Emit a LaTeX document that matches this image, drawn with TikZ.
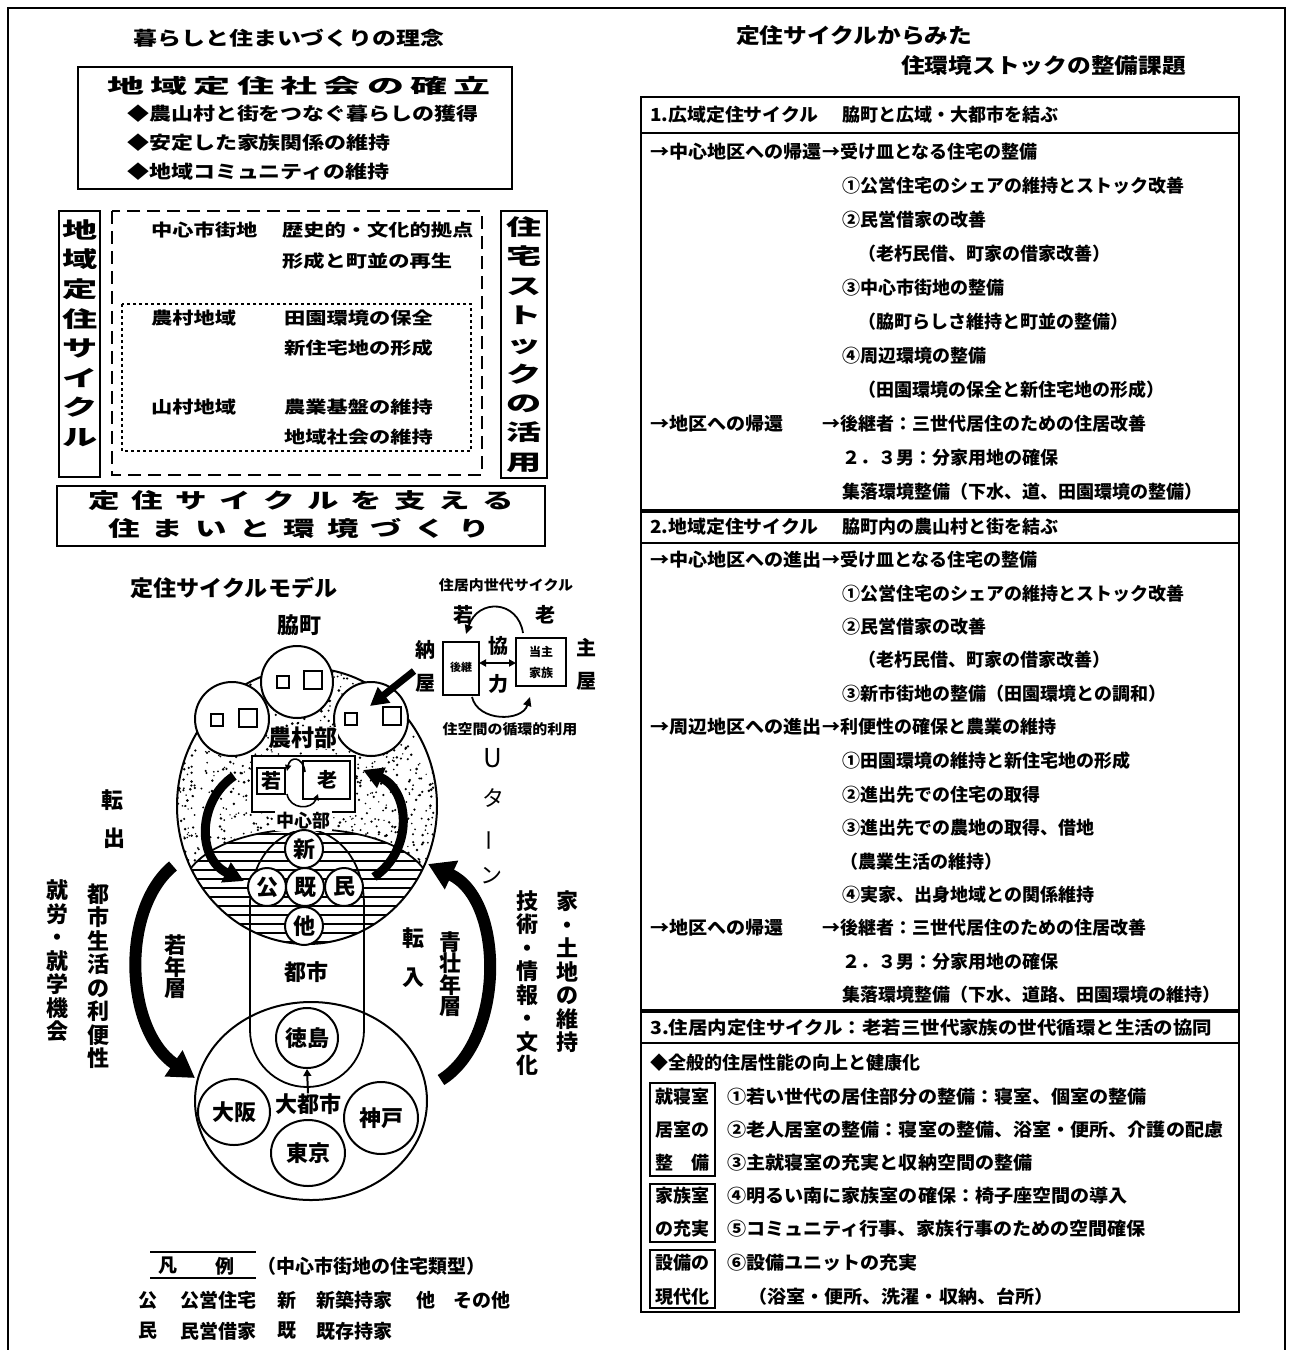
\documentclass[tikz,border=0pt]{standalone}
\usepackage{fontspec}
\setmainfont{Noto Sans CJK JP}
\usetikzlibrary{arrows.meta}
\newcommand{\fs}[1]{\fontsize{#1}{#1}\selectfont}
\newcommand{\sx}[2]{\scalebox{#1}[1]{#2}}
\newcommand{\spc}[2]{\foreach \cc [count=\ii] in {#2}{\ifnum\ii>1\hspace{#1}\fi\cc}}
\newcommand{\vstack}[1]{\begin{tabular}{@{}c@{}}#1\end{tabular}}
\tikzset{
  lw/.style={line width=2pt},
  tb/.style={anchor=west, inner sep=0pt, font=\fs{18}\bfseries},
  lt/.style={anchor=west, inner sep=0pt, font=\fs{17}\bfseries},
  vlab/.style={align=center, inner sep=0pt, font={\fontsize{22}{23.5}\selectfont\bfseries}},
  vlabs/.style={align=center, inner sep=0pt, font={\fontsize{22}{21.5}\selectfont\bfseries}},
  ml/.style={inner sep=0pt, font=\fs{22}\bfseries},
  sm/.style={inner sep=0pt, font=\fs{20}\bfseries},
  lg/.style={inner sep=0pt, font=\fs{19}\bfseries},
  bigarr/.style={line width=12pt, -{Triangle[length=26pt,width=30pt]}},
  midarr/.style={line width=9pt, -{Triangle[length=20pt,width=21pt]}},
  thinarr/.style={line width=1.8pt, -{Triangle[length=9pt,width=8pt]}},
}
\begin{document}
\begin{tikzpicture}[x=1pt,y=-1pt]
\useasboundingbox (0,0) rectangle (1291,1350);
\fill[white] (0,0) rectangle (1291,1350);
% outer frame
\draw[lw] (8,1350) -- (8,8) -- (1285,8) -- (1285,1350);

% ================= left top =================
\node[font=\fs{19}\bfseries] (t1) at (289,38) {\sx{1.26}{暮らしと住まいづくりの理念}};
\draw[lw] (78,67) rectangle (512,189);
\node[font=\fs{20}\bfseries] (b1) at (299,86) {\sx{1.85}{\spc{3.4pt}{地,域,定,住,社,会,の,確,立}}};
\node[lt, font=\fs{18}\bfseries] (b1a) at (127,114) {\sx{1.22}{◆農山村と街をつなぐ暮らしの獲得}};
\node[lt, font=\fs{18}\bfseries] (b1b) at (127,143) {\sx{1.22}{◆安定した家族関係の維持}};
\node[lt, font=\fs{18}\bfseries] (b1c) at (127,172) {\sx{1.22}{◆地域コミュニティの維持}};

\draw[lw] (59,211) rectangle (100,477);
\node[font={\fontsize{22}{29.6}\selectfont\bfseries}] (lv) at (80,336) {\sx{1.6}{\vstack{地\\域\\定\\住\\サ\\イ\\ク\\ル}}};
\draw[lw] (501,211) rectangle (547,478);
\node[font={\fontsize{22}{29.3}\selectfont\bfseries}] (rv) at (524,347) {\sx{1.6}{\vstack{住\\宅\\ス\\ト\\ッ\\ク\\の\\活\\用}}};

\draw[line width=1.8pt, dash pattern=on 13pt off 7pt] (112,211) rectangle (482,475);
\draw[line width=1.8pt, dash pattern=on 3pt off 3pt] (122,304) rectangle (471,451);
\node[lt] (d1) at (151,230) {\sx{1.25}{中心市街地}};
\node[lt] (d2) at (282,230) {\sx{1.25}{歴史的・文化的拠点}};
\node[lt] (d3) at (282,261) {\sx{1.25}{形成と町並の再生}};
\node[lt] (d4) at (151,318) {\sx{1.25}{農村地域}};
\node[lt] (d5) at (284,318) {\sx{1.25}{田園環境の保全}};
\node[lt] (d6) at (284,348) {\sx{1.25}{新住宅地の形成}};
\node[lt] (d7) at (151,407) {\sx{1.25}{山村地域}};
\node[lt] (d8) at (284,407) {\sx{1.25}{農業基盤の維持}};
\node[lt] (d9) at (284,437) {\sx{1.25}{地域社会の維持}};

\draw[lw] (57,486) rectangle (545,546);
\node[font=\fs{21}\bfseries] (bb1) at (301,501) {\sx{1.5}{\spc{8.2pt}{定,住,サ,イ,ク,ル,を,支,え,る}}};
\node[font=\fs{21}\bfseries] (bb2) at (299,528) {\sx{1.5}{\spc{8.2pt}{住,ま,い,と,環,境,づ,く,り}}};

% ================= right table =================
\node[anchor=west, inner sep=0pt, font=\fs{21}\bfseries] (rt1) at (736,36) {\sx{1.13}{定住サイクルからみた}};
\node[anchor=west, inner sep=0pt, font=\fs{21}\bfseries] (rt2) at (901,66) {\sx{1.13}{住環境ストックの整備課題}};

\draw[lw] (641,97) rectangle (1239,133);
\draw[lw] (641,133) rectangle (1239,510);
\draw[lw] (641,512) rectangle (1239,543);
\draw[lw] (641,543) rectangle (1239,1010);
\draw[lw] (641,1012) rectangle (1239,1043);
\draw[lw] (641,1043) rectangle (1239,1312);

% section 1
\node[tb] (s1h) at (650,115) {\sx{1.05}{1.広域定住サイクル}};
\node[tb] (s1hb) at (842,115) {脇町と広域・大都市を結ぶ};
\node[tb] (s1a) at (650,152) {\sx{1.06}{→中心地区への帰還}};
\node[tb] (s1ab) at (822,152) {→受け皿となる住宅の整備};
\node[tb] (s1b) at (842,186) {①公営住宅のシェアの維持とストック改善};
\node[tb] (s1c) at (842,220) {②民営借家の改善};
\node[tb] (s1d) at (858,254) {（老朽民借、町家の借家改善）};
\node[tb] (s1e) at (842,288) {③中心市街地の整備};
\node[tb] (s1f) at (858,322) {（脇町らしさ維持と町並の整備）};
\node[tb] (s1g) at (842,356) {④周辺環境の整備};
\node[tb] (s1h2) at (858,390) {（田園環境の保全と新住宅地の形成）};
\node[tb] (s1i) at (650,424) {\sx{1.06}{→地区への帰還}};
\node[tb] (s1ib) at (822,424) {→後継者：三世代居住のための住居改善};
\node[tb] (s1j) at (842,458) {２．３男：分家用地の確保};
\node[tb] (s1k) at (842,492) {集落環境整備（下水、道、田園環境の整備）};

% section 2
\node[tb] (s2h) at (650,527) {\sx{1.05}{2.地域定住サイクル}};
\node[tb] (s2hb) at (842,527) {脇町内の農山村と街を結ぶ};
\node[tb] (s2a) at (650,560) {\sx{1.06}{→中心地区への進出}};
\node[tb] (s2ab) at (822,560) {→受け皿となる住宅の整備};
\node[tb] (s2b) at (842,594) {①公営住宅のシェアの維持とストック改善};
\node[tb] (s2c) at (842,627) {②民営借家の改善};
\node[tb] (s2d) at (858,660) {（老朽民借、町家の借家改善）};
\node[tb] (s2e) at (842,694) {③新市街地の整備（田園環境との調和）};
\node[tb] (s2f) at (650,727) {\sx{1.06}{→周辺地区への進出}};
\node[tb] (s2fb) at (822,727) {→利便性の確保と農業の維持};
\node[tb] (s2g) at (842,761) {①田園環境の維持と新住宅地の形成};
\node[tb] (s2h2) at (842,795) {②進出先での住宅の取得};
\node[tb] (s2i) at (842,828) {③進出先での農地の取得、借地};
\node[tb] (s2j) at (840,862) {（農業生活の維持）};
\node[tb] (s2k) at (842,895) {④実家、出身地域との関係維持};
\node[tb] (s2l) at (650,928) {\sx{1.06}{→地区への帰還}};
\node[tb] (s2lb) at (822,928) {→後継者：三世代居住のための住居改善};
\node[tb] (s2m) at (842,962) {２．３男：分家用地の確保};
\node[tb] (s2n) at (842,995) {集落環境整備（下水、道路、田園環境の維持）};

% section 3
\node[tb] (s3h) at (650,1028) {\sx{1.08}{3.住居内定住サイクル：老若三世代家族の世代循環と生活の協同}};
\node[tb] (s3a) at (650,1063) {◆全般的住居性能の向上と健康化};
\draw[lw] (650,1083) rectangle (715,1176);
\draw[lw] (650,1184) rectangle (715,1242);
\draw[lw] (650,1250) rectangle (715,1308);
\node[tb, anchor=center] (k1) at (682,1097) {就寝室};
\node[tb, anchor=center] (k2) at (682,1130) {居室の};
\node[tb, anchor=center] (k3) at (682,1163) {整\hspace{18pt}備};
\node[tb, anchor=center] (k4) at (682,1196) {家族室};
\node[tb, anchor=center] (k5) at (682,1229) {の充実};
\node[tb, anchor=center] (k6) at (682,1263) {設備の};
\node[tb, anchor=center] (k7) at (682,1297) {現代化};
\node[tb] (s3b) at (727,1097) {\sx{1.06}{①若い世代の居住部分の整備：寝室、個室の整備}};
\node[tb] (s3c) at (727,1130) {\sx{1.06}{②老人居室の整備：寝室の整備、浴室・便所、介護の配慮}};
\node[tb] (s3d) at (727,1163) {\sx{1.06}{③主就寝室の充実と収納空間の整備}};
\node[tb] (s3e) at (727,1196) {\sx{1.06}{④明るい南に家族室の確保：椅子座空間の導入}};
\node[tb] (s3f) at (727,1229) {\sx{1.06}{⑤コミュニティ行事、家族行事のための空間確保}};
\node[tb] (s3g) at (727,1263) {\sx{1.06}{⑥設備ユニットの充実}};
\node[tb] (s3i) at (748,1297) {\sx{1.06}{（浴室・便所、洗濯・収納、台所）}};

% ================= model =================
\node[font=\fs{22}\bfseries] (mt) at (234,588) {\sx{1.05}{定住サイクルモデル}};
\node[ml] (wm) at (299,625) {脇町};

\begin{scope}
  \clip (307,806) ellipse [x radius=130pt, y radius=138pt];
  \pgfmathsetseed{11}
  \foreach \k in {1,...,1500}{
    \pgfmathsetmacro{\px}{307+130*rand}
    \pgfmathsetmacro{\py}{806+138*rand}
    \pgfmathsetmacro{\pr}{1.1+0.4*rand}
    \fill (\px,\py) circle (\pr pt);
  }
  \begin{scope}
    \clip (170,868) -- (191,868) .. controls (232,816) and (382,816) .. (423,868) -- (445,868) -- (445,960) -- (170,960) -- cycle;
    \fill[white] (170,810) rectangle (450,960);
    \foreach \yy in {834,843,...,950} \draw[line width=1.6pt] (170,\yy) -- (450,\yy);
  \end{scope}
\end{scope}
\draw[lw] (307,806) ellipse [x radius=130pt, y radius=138pt];
\draw[line width=1.8pt] (191,868) .. controls (232,816) and (382,816) .. (423,868);
% capsule
\draw[line width=1.8pt] (250,1030) -- (250,905) .. controls (250,860) and (276,832) .. (307,829)
  .. controls (338,832) and (364,860) .. (364,905) -- (364,1030)
  .. controls (364,1061.5) and (338.5,1087) .. (307,1087)
  .. controls (275.5,1087) and (250,1061.5) .. (250,1030);

% top circles
\draw[lw, fill=white] (297,682) circle (36pt);
\draw[lw] (277,676) rectangle (289,688);
\draw[lw] (304,671) rectangle (322,689);
\draw[lw, fill=white] (232,719) circle (37pt);
\draw[lw] (211,714) rectangle (223,726);
\draw[lw] (239,709) rectangle (257,727);
\draw[lw, fill=white] (371,719) circle (37pt);
\draw[lw] (345,713) rectangle (357,725);
\draw[lw] (383,707) rectangle (401,725);

\node[inner sep=0pt, fill=white, font=\fs{23}\bfseries] (nson) at (303,738) {農村部};

% center box
\draw[line width=1.8pt, fill=white] (252,756) rectangle (355,812);
\draw[lw] (257,768) rectangle (285,794);
\draw[lw] (303,761) rectangle (350,799);
\node[sm] (waka) at (271,781) {若};
\node[sm] (roo) at (327,780) {老};
\draw[line width=1.6pt, -{Triangle[length=6pt,width=6pt]}] (305,772) .. controls (303,756) and (290,756) .. (287,771);
\draw[line width=1.6pt, -{Triangle[length=6pt,width=6pt]}] (287,794) .. controls (290,810) and (312,810) .. (318,794);
\node[inner sep=1.5pt, fill=white, font=\fs{18}\bfseries] (chu) at (303,821) {中心部};

% inner thick arcs
\draw[midarr] (234,776) .. controls (198,800) and (196,858) .. (244,881);
\draw[midarr] (374,877) .. controls (414,850) and (410,790) .. (363,770);

% small circles
\draw[lw, fill=white] (304,849) circle (19pt);
\draw[lw, fill=white] (267,887) circle (19pt);
\draw[lw, fill=white] (305,887) circle (19pt);
\draw[lw, fill=white] (344,887) circle (19pt);
\draw[lw, fill=white] (304,926) circle (19pt);
\node[ml] (cshin) at (304,849) {新};
\node[ml] (cko) at (267,887) {公};
\node[ml] (cki) at (305,887) {既};
\node[ml] (cmin) at (344,887) {民};
\node[ml] (cta) at (304,926) {他};
\node[ml] (toshi) at (306,972) {都市};

% lower circle
\draw[lw] (311,1101) ellipse [x radius=116pt, y radius=99pt];
\draw[lw, fill=white] (307,1038) ellipse [x radius=31pt, y radius=30pt];
\draw[lw, fill=white] (234,1112) ellipse [x radius=36pt, y radius=33pt];
\draw[lw, fill=white] (381,1118) ellipse [x radius=37pt, y radius=36pt];
\draw[lw, fill=white] (308,1153) ellipse [x radius=37pt, y radius=33pt];
\node[ml] (toku) at (307,1038) {徳島};
\node[ml] (osaka) at (234,1112) {大阪};
\node[ml] (kobe) at (381,1118) {神戸};
\node[ml] (tokyo) at (308,1153) {東京};
\node[ml] (dai) at (308,1104) {大都市};
\draw[line width=2pt, -{Triangle[length=7pt,width=8pt]}] (dai.north) -- (toku.south |- 0,1069);

% big arcs
\draw[bigarr] (173,866) .. controls (120,910) and (125,1030) .. (195,1078);
\draw[bigarr] (441,1080) .. controls (505,1040) and (505,900) .. (428,864);
\draw[line width=7pt, -{Triangle[length=18pt,width=19pt]}] (414,671) -- (370,706);

% generation cycle inset
\node[inner sep=0pt, font=\fs{14}\bfseries] (gcy) at (506,585) {\sx{1.07}{住居内世代サイクル}};
\node[sm] (gw) at (463,615) {若};
\node[sm] (go) at (545,615) {老};
\node[sm] (gn1) at (425,650) {納};
\node[sm] (gn2) at (425,683) {屋};
\node[sm] (gs1) at (586,648) {主};
\node[sm] (gs2) at (586,681) {屋};
\node[sm] (gk1) at (498,646) {協};
\node[sm] (gk2) at (498,684) {力};
\draw[lw] (443,642) rectangle (479,695);
\node[inner sep=0pt, font=\fs{11}\bfseries] (gko) at (461,667) {後継};
\draw[lw] (516,638) rectangle (566,686);
\node[inner sep=0pt, font=\fs{12}\bfseries] (gto) at (541,652) {当主};
\node[inner sep=0pt, font=\fs{12}\bfseries] (gka) at (541,673) {家族};
\draw[line width=2pt, {Triangle[length=7pt,width=7pt]}-{Triangle[length=7pt,width=7pt]}] (479,663) -- (516,663);
\draw[thinarr] (523,633) .. controls (518,600) and (478,598) .. (466,634);
\draw[thinarr] (472,697) .. controls (478,722) and (522,722) .. (530,697);
\node[inner sep=0pt, font=\fs{14}\bfseries] (gju) at (510,729) {\sx{1.07}{住空間の循環的利用}};

% vertical labels
\node[inner sep=0pt, font=\fs{22}\bfseries] (ten1) at (112,800) {転};
\node[inner sep=0pt, font=\fs{22}\bfseries] (de1) at (114,838) {出};
\node[inner sep=0pt, font=\fs{26}] (u1) at (493,758) {U};
\node[inner sep=0pt, font=\fs{22}] (u2) at (493,798) {タ};
\node[inner sep=0pt, font=\fs{22}, rotate=90] (u3) at (493,840) {ー};
\node[inner sep=0pt, font=\fs{22}] (u4) at (491,876) {ン};
\node[vlab] (v1) at (57,961) {就\\労\\・\\就\\学\\機\\会};
\node[vlab] (v2) at (98,976) {都\\市\\生\\活\\の\\利\\便\\性};
\node[vlabs] (v3) at (175,967) {若\\年\\層};
\node[vlabs] (v4) at (450,974) {青\\壮\\年\\層};
\node[vlab] (v5) at (527,983) {技\\術\\・\\情\\報\\・\\文\\化};
\node[vlab] (v6) at (567,972) {家\\・\\土\\地\\の\\維\\持};
\node[inner sep=0pt, font=\fs{22}\bfseries] (ten2) at (413,938) {転};
\node[inner sep=0pt, font=\fs{22}\bfseries] (in2) at (413,978) {入};

% legend
\draw[line width=1.5pt] (150,1252) -- (256,1252);
\draw[line width=1.5pt] (150,1278) -- (256,1278);
\node[lg] (lg1) at (168,1266) {凡};
\node[lg] (lg2) at (225,1266) {例};
\node[lg, anchor=west] (lg3) at (257,1266) {（中心市街地の住宅類型）};
\node[lg] (lg4) at (148,1300) {公};
\node[lg, anchor=west] (lg5) at (180,1300) {公営住宅};
\node[lg] (lg6) at (287,1300) {新};
\node[lg, anchor=west] (lg7) at (316,1300) {新築持家};
\node[lg] (lg8) at (426,1300) {他};
\node[lg, anchor=west] (lg9) at (453,1300) {その他};
\node[lg] (lg10) at (148,1331) {民};
\node[lg, anchor=west] (lg11) at (180,1331) {民営借家};
\node[lg] (lg12) at (287,1331) {既};
\node[lg, anchor=west] (lg13) at (316,1331) {既存持家};
\end{tikzpicture}
\end{document}
